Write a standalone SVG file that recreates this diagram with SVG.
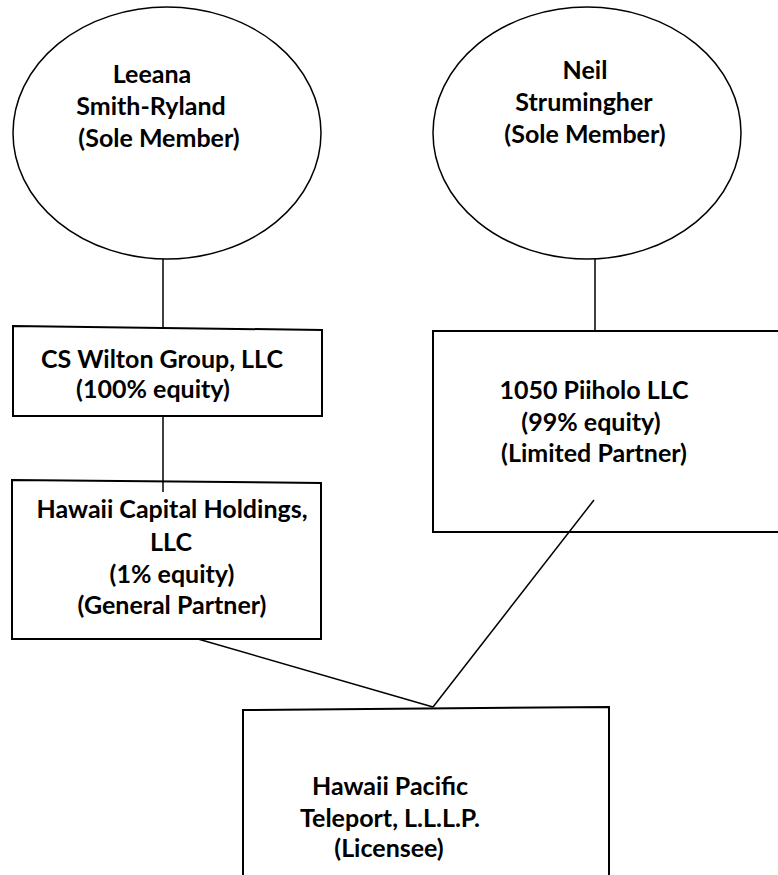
<svg xmlns="http://www.w3.org/2000/svg" width="778" height="875" viewBox="0 0 778 875">
<style>
.shape{fill:#fff;stroke:#000;stroke-width:2}
.ell{fill:#fff;stroke:#000;stroke-width:1.5}
.conn line{stroke:#000;stroke-width:1.5}
text{font-family:Lato,"Noto Sans","Liberation Sans",sans-serif;font-weight:bold;font-size:25px;fill:#000;text-anchor:middle}
</style>
<rect width="778" height="875" fill="#fff"/>
<g id="leeana">
<ellipse class="ell" cx="167" cy="133" rx="154" ry="126"/>
<text x="152" y="83">Leeana</text>
<text x="151" y="115">Smith-Ryland</text>
<text x="159" y="147">(Sole Member)</text>
</g>
<g id="neil">
<ellipse class="ell" cx="587" cy="133" rx="154" ry="126"/>
<text x="585" y="79">Neil</text>
<text x="584" y="111">Strumingher</text>
<text x="585" y="143">(Sole Member)</text>
</g>
<g id="cswilton">
<polygon class="shape" points="13,326 322,330 322,416 13,416"/>
<text x="162" y="368">CS Wilton Group, LLC</text>
<text x="153" y="398">(100% equity)</text>
</g>
<g id="piiholo">
<rect class="shape" x="433" y="331" width="360" height="201"/>
<text x="594" y="399">1050 Piiholo LLC</text>
<text x="591" y="431">(99% equity)</text>
<text x="594" y="462">(Limited Partner)</text>
</g>
<g id="hawaiicapital">
<polygon class="shape" points="12,480 321,483 321,639 12,639"/>
<text x="172" y="518">Hawaii Capital Holdings,</text>
<text x="171" y="551">LLC</text>
<text x="172" y="583">(1% equity)</text>
<text x="172" y="614">(General Partner)</text>
</g>
<g id="teleport">
<polygon class="shape" points="243,710 609,707 609,890 243,890"/>
<text x="390" y="795">Hawaii Pacific</text>
<text x="390" y="827">Teleport, L.L.L.P.</text>
<text x="389" y="857">(Licensee)</text>
</g>
<g class="conn" id="connectors">
<line x1="163" y1="259" x2="163" y2="328"/>
<line x1="595" y1="259" x2="595" y2="331"/>
<line x1="163" y1="416" x2="163" y2="492"/>
<line x1="198" y1="639" x2="433" y2="707"/>
<line x1="594" y1="500" x2="433" y2="707"/>
</g>
</svg>
